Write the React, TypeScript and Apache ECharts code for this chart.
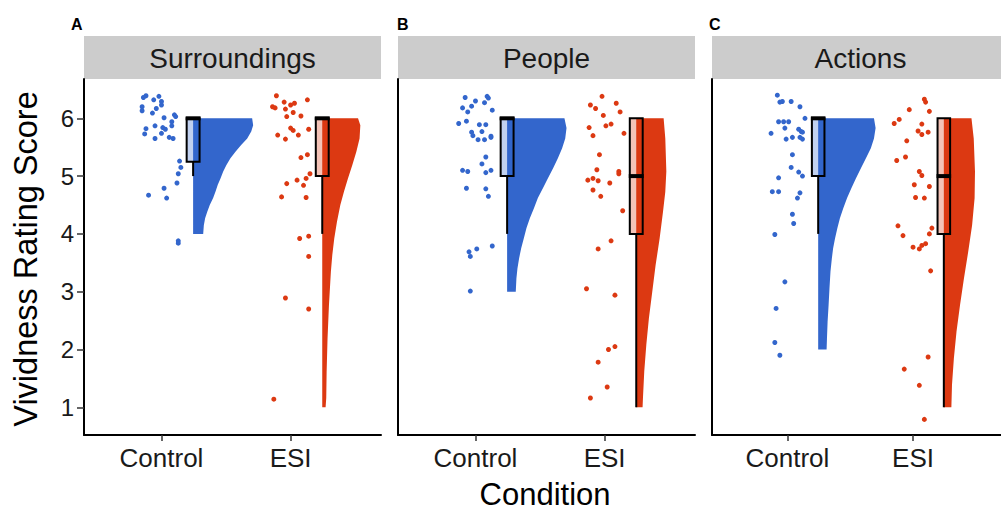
import React, { useEffect, useRef } from "react";
import * as echarts from "echarts";

const panels = ["Surroundings", "People", "Actions"];
const panelLetters = ["A", "B", "C"];
const conditions = ["Control", "ESI"];
const yTicks = [1, 2, 3, 4, 5, 6];
const xTicks = [1, 2];
const BLUE = "#3366CC";
const RED = "#DC3912";
const BLUE_LIGHT = "rgba(51,102,204,0.3)";
const RED_LIGHT = "rgba(220,57,18,0.3)";
const FONT = "'Liberation Sans', Arial, Helvetica, sans-serif";

// jittered raw points (x = condition position + jitter, y = rating + jitter)
const surrControlX = [0.86, 0.88, 0.98, 0.94, 1.0, 1.0, 0.96, 0.85, 0.85, 0.93, 1.02, 1.1, 1.11, 1.08, 1.08, 0.95, 1.01, 1.03, 0.88, 0.87, 1.0, 0.95, 1.06, 1.09, 1.14, 1.15, 1.13, 1.12, 1.02, 0.9, 1.04, 1.13, 1.13];
const surrControlY = [6.36, 6.39, 6.38, 6.32, 6.29, 6.23, 6.17, 6.2, 6.13, 6.09, 6.01, 6.06, 6.03, 5.94, 5.87, 5.87, 5.84, 5.81, 5.82, 5.73, 5.74, 5.65, 5.67, 5.65, 5.26, 5.15, 5.04, 4.88, 4.79, 4.67, 4.62, 3.88, 3.84];
const surrEsiX = [1.89, 1.86, 1.88, 1.95, 2.0, 2.03, 2.13, 1.96, 2.02, 2.08, 1.97, 2.0, 2.02, 2.06, 2.14, 1.9, 1.96, 2.08, 2.13, 2.15, 2.12, 2.05, 2.1, 1.97, 1.93, 2.12, 2.07, 2.14, 2.14, 1.96, 2.14, 1.87];
const surrEsiY = [6.39, 6.2, 6.18, 6.28, 6.23, 6.26, 6.32, 6.16, 6.1, 6.04, 6.03, 5.83, 5.79, 5.71, 5.81, 5.71, 5.64, 5.32, 5.37, 5.04, 4.96, 4.93, 4.84, 4.87, 4.64, 4.63, 3.92, 3.96, 3.61, 2.89, 2.7, 1.14];
const peopleControlX = [0.92, 1.0, 0.97, 0.9, 0.94, 1.09, 1.1, 1.07, 1.13, 0.93, 0.87, 1.03, 1.08, 0.97, 0.98, 1.05, 1.02, 1.07, 1.12, 1.12, 1.08, 1.05, 0.9, 0.94, 1.08, 1.12, 0.93, 1.08, 1.1, 1.13, 1.01, 0.95, 0.96, 0.96];
const peopleControlY = [6.36, 6.3, 6.21, 6.18, 6.11, 6.38, 6.35, 6.27, 6.14, 5.95, 5.91, 5.89, 5.89, 5.76, 5.7, 5.77, 5.63, 5.63, 5.69, 5.67, 5.33, 5.21, 5.1, 5.08, 5.06, 5.1, 4.79, 4.78, 4.65, 3.79, 3.74, 3.69, 3.61, 3.01];
const peopleEsiX = [1.98, 1.89, 1.93, 2.09, 2.12, 1.99, 2.01, 2.05, 1.88, 1.91, 2.15, 1.96, 1.94, 2.11, 2.11, 1.87, 1.91, 1.95, 2.04, 1.91, 1.97, 2.14, 2.05, 1.95, 1.86, 2.08, 2.08, 2.03, 1.95, 2.02, 1.89];
const peopleEsiY = [6.38, 6.23, 6.17, 6.26, 6.11, 6.05, 5.87, 5.9, 5.84, 5.7, 5.74, 5.37, 5.11, 5.08, 5.04, 4.93, 4.96, 4.92, 4.88, 4.76, 4.65, 4.4, 3.88, 3.74, 3.05, 2.94, 2.05, 2.0, 1.78, 1.35, 1.16];
const actionsControlX = [0.92, 0.94, 0.96, 1.03, 1.1, 1.14, 0.93, 0.97, 1.01, 0.98, 0.87, 1.09, 1.11, 1.12, 0.99, 1.04, 1.1, 1.12, 1.04, 1.03, 1.09, 1.12, 0.93, 0.88, 0.93, 1.1, 1.08, 1.04, 1.05, 0.9, 0.98, 0.91, 0.9, 0.94];
const actionsControlY = [6.4, 6.28, 6.29, 6.29, 6.2, 6.0, 5.94, 5.94, 5.94, 5.83, 5.74, 5.81, 5.77, 5.76, 5.64, 5.67, 5.67, 5.64, 5.37, 5.15, 5.07, 5.0, 4.97, 4.73, 4.73, 4.71, 4.62, 4.34, 4.18, 3.99, 3.17, 2.71, 2.12, 1.9];
const actionsEsiX = [2.09, 2.1, 1.97, 2.13, 1.89, 1.85, 2.07, 2.04, 2.07, 2.12, 1.95, 1.94, 1.87, 2.05, 2.07, 2.01, 2.13, 2.02, 2.09, 1.88, 1.92, 2.15, 2.13, 2.1, 2.07, 2.05, 2.0, 2.14, 2.12, 1.93, 2.05, 2.09];
const actionsEsiY = [6.33, 6.28, 6.15, 6.12, 5.98, 5.91, 5.9, 5.78, 5.72, 5.76, 5.61, 5.33, 5.27, 5.08, 5.01, 4.85, 4.82, 4.63, 4.62, 4.14, 3.97, 4.1, 4.0, 3.83, 3.8, 3.74, 3.77, 3.36, 1.87, 1.66, 1.38, 0.79];

// half-violin density profiles (rating level, half width in x units)
const surrControlViolinY = [6.0, 5.88, 5.77, 5.65, 5.54, 5.42, 5.31, 5.19, 5.08, 4.96, 4.85, 4.73, 4.62, 4.5, 4.38, 4.27, 4.15, 4.0];
const surrControlViolinW = [0.457, 0.465, 0.45, 0.419, 0.372, 0.328, 0.289, 0.258, 0.233, 0.212, 0.191, 0.173, 0.155, 0.129, 0.109, 0.093, 0.083, 0.078];
const surrEsiViolinY = [6.0, 5.88, 5.65, 5.42, 5.19, 4.96, 4.73, 4.5, 4.21, 3.92, 3.64, 3.35, 2.77, 2.19, 1.62, 1.16, 1.0];
const surrEsiViolinW = [0.277, 0.295, 0.289, 0.264, 0.233, 0.199, 0.168, 0.14, 0.114, 0.093, 0.078, 0.067, 0.052, 0.041, 0.034, 0.031, 0.026];
const peopleControlViolinY = [6.0, 5.83, 5.65, 5.48, 5.31, 5.14, 4.96, 4.79, 4.62, 4.44, 4.27, 4.1, 3.92, 3.75, 3.58, 3.4, 3.23, 3.0];
const peopleControlViolinW = [0.444, 0.46, 0.45, 0.426, 0.393, 0.357, 0.315, 0.277, 0.238, 0.207, 0.176, 0.15, 0.129, 0.109, 0.093, 0.08, 0.072, 0.067];
const peopleEsiViolinY = [6.0, 5.65, 5.08, 4.73, 4.38, 3.92, 3.46, 3.0, 2.54, 2.08, 1.62, 1.16, 1.0];
const peopleEsiViolinW = [0.212, 0.225, 0.233, 0.225, 0.207, 0.181, 0.15, 0.124, 0.098, 0.078, 0.062, 0.052, 0.049];
const actionsControlViolinY = [6.0, 5.83, 5.65, 5.48, 5.31, 5.14, 4.96, 4.79, 4.62, 4.44, 4.27, 4.1, 3.92, 3.75, 3.58, 3.35, 3.06, 2.77, 2.48, 2.19, 2.0];
const actionsControlViolinW = [0.444, 0.457, 0.444, 0.419, 0.38, 0.341, 0.3, 0.264, 0.23, 0.199, 0.173, 0.153, 0.134, 0.119, 0.109, 0.098, 0.09, 0.083, 0.075, 0.07, 0.067];
const actionsEsiViolinY = [6.0, 5.65, 5.08, 4.62, 4.15, 3.69, 3.23, 2.77, 2.31, 1.85, 1.39, 1.0];
const actionsEsiViolinW = [0.22, 0.238, 0.248, 0.245, 0.225, 0.194, 0.16, 0.129, 0.101, 0.08, 0.065, 0.06];

// boxplot stats, order: Surr-Control, Surr-ESI, People-Control, People-ESI, Actions-Control, Actions-ESI
const boxLower = [5, 4, 4, 1, 4, 1];
const boxQ1 = [5.25, 5, 5, 4, 5, 4];
const boxMedian = [6, 6, 6, 5, 6, 5];
const boxQ3 = [6, 6, 6, 6, 6, 6];

const groups = [
  { xs: surrControlX, ys: surrControlY, vy: surrControlViolinY, vw: surrControlViolinW },
  { xs: surrEsiX, ys: surrEsiY, vy: surrEsiViolinY, vw: surrEsiViolinW },
  { xs: peopleControlX, ys: peopleControlY, vy: peopleControlViolinY, vw: peopleControlViolinW },
  { xs: peopleEsiX, ys: peopleEsiY, vy: peopleEsiViolinY, vw: peopleEsiViolinW },
  { xs: actionsControlX, ys: actionsControlY, vy: actionsControlViolinY, vw: actionsControlViolinW },
  { xs: actionsEsiX, ys: actionsEsiY, vy: actionsEsiViolinY, vw: actionsEsiViolinW },
];

const OFFSET = 0.245;
const BOX_HW = 0.05;
const PANEL_LEFT = 84;
const PANEL_STEP = 314;
const PANEL_W = 297;
const PLOT_TOP = 79;
const PLOT_H = 356;

function buildOption() {
  const grid: any[] = [];
  const xAxis: any[] = [];
  const yAxis: any[] = [];
  const series: any[] = [];
  const graphic: any[] = [];

  panels.forEach((name, i) => {
    const left = PANEL_LEFT + i * PANEL_STEP;
    grid.push({ left, top: PLOT_TOP, width: PANEL_W, height: PLOT_H });
    xAxis.push({
      type: "value",
      gridIndex: i,
      min: 0.4,
      max: 2.7,
      splitLine: { show: false },
      axisLine: { show: true, onZero: false, lineStyle: { color: "#000", width: 2 } },
      axisTick: { show: true, customValues: xTicks, length: 6, lineStyle: { color: "#333", width: 1.5 } },
      axisLabel: {
        show: true,
        customValues: xTicks,
        formatter: (v: number) => conditions[Math.round(v) - 1] || "",
        fontSize: 26,
        color: "#1a1a1a",
        fontFamily: FONT,
        margin: 10,
      },
    });
    yAxis.push({
      type: "value",
      gridIndex: i,
      min: 0.52,
      max: 6.68,
      splitLine: { show: false },
      axisLine: { show: true, onZero: false, lineStyle: { color: "#000", width: 2 } },
      axisTick: { show: i === 0, customValues: yTicks, length: 7, lineStyle: { color: "#333", width: 1.5 } },
      axisLabel: {
        show: i === 0,
        customValues: yTicks,
        fontSize: 24,
        color: "#1a1a1a",
        fontFamily: FONT,
        margin: 10,
      },
    });

    // strip
    graphic.push({
      type: "rect",
      shape: { x: left, y: 36, width: PANEL_W, height: 43 },
      style: { fill: "#cccccc" },
      silent: true,
    });
    graphic.push({
      type: "text",
      x: left + PANEL_W / 2,
      y: 58,
      style: { text: name, fontSize: 28, fontFamily: FONT, fill: "#1a1a1a", align: "center", verticalAlign: "middle" },
      silent: true,
    });
    graphic.push({
      type: "text",
      x: [71, 397, 709][i],
      y: 24,
      style: { text: panelLetters[i], fontSize: 16, fontWeight: "bold", fontFamily: FONT, fill: "#000", align: "left", verticalAlign: "middle" },
      silent: true,
    });
  });

  groups.forEach((g, k) => {
    const panel = Math.floor(k / 2);
    const cond = k % 2;
    const pos = cond + 1;
    const color = cond === 0 ? BLUE : RED;
    const light = cond === 0 ? BLUE_LIGHT : RED_LIGHT;

    series.push({
      type: "scatter",
      xAxisIndex: panel,
      yAxisIndex: panel,
      symbol: "circle",
      symbolSize: 5,
      itemStyle: { color, opacity: 1 },
      data: g.xs.map((x, i) => [x, g.ys[i]]),
      z: 2,
    });

    series.push({
      type: "custom",
      xAxisIndex: panel,
      yAxisIndex: panel,
      data: [[pos, 6]],
      z: 3,
      renderItem: (params: any, api: any) => {
        const base = pos + OFFSET;
        const pts: number[][] = [];
        pts.push(api.coord([base, g.vy[g.vy.length - 1]]));
        pts.push(api.coord([base, g.vy[0]]));
        g.vy.forEach((y, j) => pts.push(api.coord([base + g.vw[j], y])));
        return { type: "polygon", shape: { points: pts }, style: { fill: color } };
      },
    });

    series.push({
      type: "custom",
      xAxisIndex: panel,
      yAxisIndex: panel,
      data: [[pos, boxMedian[k]]],
      z: 4,
      renderItem: (params: any, api: any) => {
        const c = pos + OFFSET;
        const tl = api.coord([c - BOX_HW, boxQ3[k]]);
        const br = api.coord([c + BOX_HW, boxQ1[k]]);
        const low = api.coord([c, boxLower[k]]);
        const q1c = api.coord([c, boxQ1[k]]);
        const mL = api.coord([c - BOX_HW, boxMedian[k]]);
        const mR = api.coord([c + BOX_HW, boxMedian[k]]);
        return {
          type: "group",
          children: [
            { type: "line", shape: { x1: q1c[0], y1: q1c[1], x2: low[0], y2: low[1] }, style: { stroke: "#000", lineWidth: 2 } },
            { type: "rect", shape: { x: tl[0], y: tl[1], width: br[0] - tl[0], height: br[1] - tl[1] }, style: { fill: light, stroke: "#000", lineWidth: 2 } },
            { type: "line", shape: { x1: mL[0] - 1, y1: mL[1], x2: mR[0] + 1, y2: mR[1] }, style: { stroke: "#000", lineWidth: 4 } },
          ],
        };
      },
    });
  });

  graphic.push({
    type: "text",
    x: 26,
    y: 259,
    rotation: Math.PI / 2,
    style: { text: "Vividness Rating Score", fontSize: 32.5, fontFamily: FONT, fill: "#000", align: "center", verticalAlign: "middle" },
    silent: true,
  });
  graphic.push({
    type: "text",
    x: 545,
    y: 494,
    style: { text: "Condition", fontSize: 31, fontFamily: FONT, fill: "#000", align: "center", verticalAlign: "middle" },
    silent: true,
  });

  return { animation: false, backgroundColor: "#fff", grid, xAxis, yAxis, series, graphic };
}

export default function App() {
  const ref = useRef<HTMLDivElement>(null);
  useEffect(() => {
    if (!ref.current) return;
    const chart = echarts.init(ref.current, null, { renderer: "svg" });
    chart.setOption(buildOption() as any);
    return () => chart.dispose();
  }, []);
  return <div ref={ref} style={{ position: "absolute", left: 0, top: 0, width: 1001, height: 513 }} />;
}
